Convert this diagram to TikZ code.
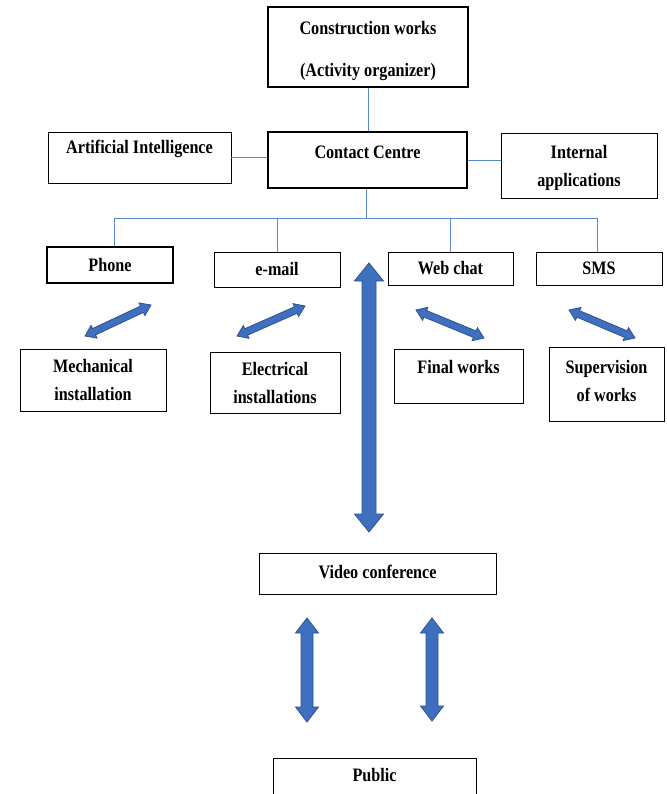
\documentclass[tikz,border=0pt]{standalone}
\usepackage{fontspec}
\setmainfont{Liberation Serif}[FakeStretch=0.85]
\usetikzlibrary{calc}
\definecolor{connc}{HTML}{5B87C9}
\definecolor{afill}{HTML}{3F6FBF}
\definecolor{aline}{HTML}{2F528F}
\tikzset{
  txt/.style={font=\fontsize{19}{28}\selectfont\bfseries, align=center, inner sep=0pt},
  box/.style={draw=black, line width=0.9pt, fill=white, inner sep=0pt, txt},
  thickbox/.style={box, line width=2pt},
  conn/.style={draw=connc, line width=0.9pt},
  blockarrow/.style={fill=afill, draw=aline, line width=0.8pt, line join=miter},
}
\newcommand\blockarr[5]{%
  \path[blockarrow] (#1)
   -- ($(#1)!#5!(#2)!#4!90:(#2)$) -- ($(#1)!#5!(#2)!#3!90:(#2)$)
   -- ($(#2)!#5!(#1)!#3!-90:(#1)$) -- ($(#2)!#5!(#1)!#4!-90:(#1)$)
   -- (#2)
   -- ($(#2)!#5!(#1)!#4!90:(#1)$) -- ($(#2)!#5!(#1)!#3!90:(#1)$)
   -- ($(#1)!#5!(#2)!#3!-90:(#2)$) -- ($(#1)!#5!(#2)!#4!-90:(#2)$)
   -- cycle;}
\begin{document}
\begin{tikzpicture}[x=1pt,y=-1pt]
\useasboundingbox (0,0) rectangle (666,794);
\clip (0,0) rectangle (666,794);

% boxes
\node[thickbox, minimum width=200pt, minimum height=80pt,
  label={[txt,yshift=-4pt]center:{Construction works\\[14pt](Activity organizer)}}] (cw) at (368,47) {};
\node[thickbox, minimum width=199pt, minimum height=56pt,
  label={[txt,yshift=8pt]center:Contact Centre}] (cc) at (367.5,160) {};
\node[box, minimum width=183pt, minimum height=51pt,
  label={[txt,yshift=8.5pt]center:Artificial Intelligence}] (ai) at (139.5,157.5) {};
\node[box, minimum width=156pt, minimum height=65pt,
  label={[txt,yshift=-2pt]center:{Internal\\applications}}] (ia) at (579,165.5) {};

\node[thickbox, minimum width=126pt, minimum height=36pt] (phone) at (110,265) {Phone};
\node[box, minimum width=126pt, minimum height=35pt] (email) at (277,269.5) {e-mail};
\node[box, minimum width=125pt, minimum height=33pt] (web) at (450.5,268.5) {Web chat};
\node[box, minimum width=126pt, minimum height=33pt] (sms) at (599,268.5) {SMS};

\node[box, minimum width=146pt, minimum height=62pt] (mech) at (93,380)
  {Mechanical\\installation};
\node[box, minimum width=130pt, minimum height=61pt] (elec) at (275,382.5)
  {Electrical\\installations};
\node[box, minimum width=129pt, minimum height=54pt,
  label={[txt,yshift=9pt]center:Final works}] (final) at (458.5,376) {};
\node[box, minimum width=115pt, minimum height=74pt,
  label={[txt,yshift=3pt]center:{Supervision\\of works}}] (sup) at (606.5,384) {};

\node[box, minimum width=237pt, minimum height=41pt,
  label={[txt,yshift=1.5pt]center:Video conference}] (video) at (377.5,573.5) {};
\node[box, minimum width=203pt, minimum height=57pt,
  label={[txt,yshift=11.5pt]center:Public}] (public) at (374.5,786.5) {};

% connectors
\coordinate (bus) at (366,218);
\draw[conn] (cw.south) -- (cw.south |- cc.north);
\draw[conn] (ai.east) -- (ai.east -| cc.west);
\draw[conn] (cc.east) -- (cc.east -| ia.west);
\draw[conn] ([xshift=-1.5pt]cc.south) -- ([xshift=-1.5pt]cc.south |- bus);
\draw[conn] ([xshift=4pt]phone.north) |- ([xshift=-2pt]sms.north |- bus) -- ([xshift=-2pt]sms.north);
\draw[conn] (email.north) -- (email.north |- bus);
\draw[conn] (web.north) -- (web.north |- bus);

% block arrows
\coordinate (a1s) at (85,336);  \coordinate (a1e) at (151,305);
\coordinate (a2s) at (237,336); \coordinate (a2e) at (305,306);
\coordinate (a3s) at (416,310); \coordinate (a3e) at (484,338);
\coordinate (a4s) at (569,310); \coordinate (a4e) at (635,338);
\coordinate (bgs) at (369,263); \coordinate (bge) at (369,532);
\coordinate (v1s) at (307,618); \coordinate (v1e) at (307,722);
\coordinate (v2s) at (432,618); \coordinate (v2e) at (432,721);

\blockarr{a1s}{a1e}{3.5pt}{7pt}{10pt}
\blockarr{a2s}{a2e}{3.5pt}{7pt}{10pt}
\blockarr{a3s}{a3e}{3.5pt}{7pt}{10pt}
\blockarr{a4s}{a4e}{3.5pt}{7pt}{10pt}
\blockarr{bgs}{bge}{7pt}{14.5pt}{18pt}
\blockarr{v1s}{v1e}{6pt}{11.5pt}{15pt}
\blockarr{v2s}{v2e}{6pt}{11.5pt}{15pt}
\end{tikzpicture}
\end{document}
